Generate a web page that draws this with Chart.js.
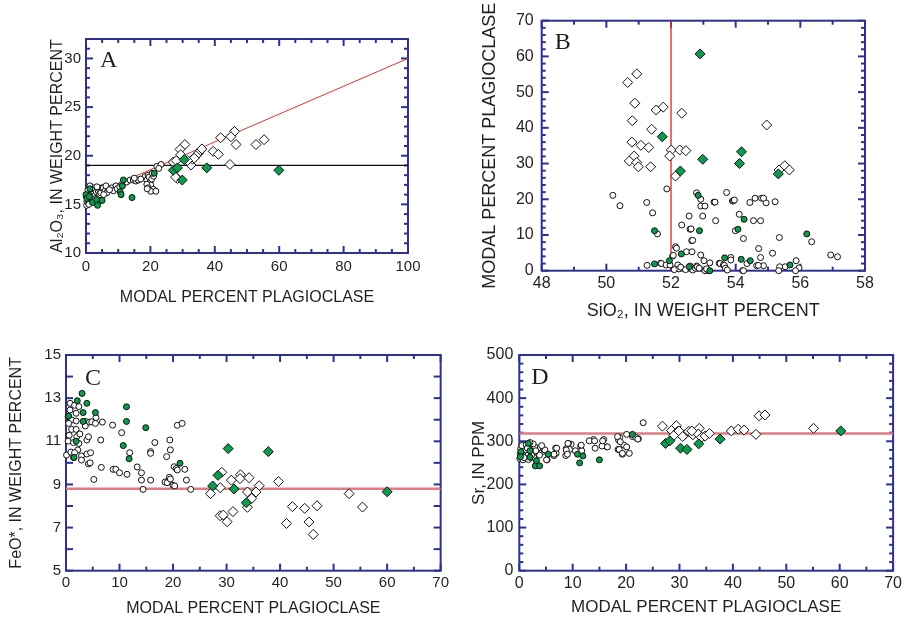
<!DOCTYPE html>
<html>
<head>
<meta charset="utf-8">
<script src="https://cdn.jsdelivr.net/npm/chart.js@4/dist/chart.umd.min.js"></script>
<style>
  html, body { margin: 0; padding: 0; background: #fff; }
  #wrap { position: relative; width: 905px; height: 621px; overflow: hidden; }
  canvas { position: absolute; }
</style>
</head>
<body>
<div id="wrap">
  <canvas id="chartA" width="452" height="320" style="left:0;top:0"></canvas>
  <canvas id="chartB" width="453" height="330" style="left:452px;top:0"></canvas>
  <canvas id="chartC" width="452" height="291" style="left:0;top:330px"></canvas>
  <canvas id="chartD" width="453" height="291" style="left:452px;top:330px"></canvas>
</div>
<script>
// ---- data ----
// A: modal plagioclase (%) vs Al2O3 (wt %)
const aOpenCircles = [[0.2,14.9],[0.3,15.3],[0.5,15.6],[0.4,16.0],[0.8,15.2],[1.0,15.8],[1.0,16.3],[1.3,15.5],[1.5,16.1],[1.8,16.5],[2.0,15.8],[2.3,16.7],[2.5,16.2],[2.8,15.9],[2.8,16.5],[3.2,16.3],[3.5,15.7],[3.8,16.4],[4.1,16.6],[4.3,16.0],[4.6,16.2],[4.9,16.7],[5.4,16.7],[5.9,16.35],[6.5,16.2],[6.9,16.6],[8.0,16.7],[8.5,16.4],[9.3,16.9],[9.7,16.6],[10.5,16.8],[11.1,17.05],[12.6,17.3],[13.7,17.5],[14.7,17.5],[15.5,17.4],[16.2,17.5],[18.3,17.85],[18.9,17.5],[19.3,18.0],[19.9,17.3],[20.1,17.0],[18.9,17.05],[19.3,16.7],[20.9,16.55],[20.1,16.35],[21.7,16.35],[22.0,18.9],[23.3,19.1],[19.6,17.8],[20.4,17.6],[19.0,16.6],[21.0,17.9],[22.6,18.7],[20.6,18.2],[0.1,15.8],[0.6,16.5],[1.2,16.9],[1.7,15.3],[2.2,15.5],[3.0,15.6],[3.4,16.8],[0.9,15.0],[4.0,15.4],[5.5,16.0],[6.2,16.9],[7.3,16.5],[15.0,17.7],[17.0,17.6]];
const aGreenCircles = [[0,16.0],[1.2,16.6],[0.3,15.6],[1.0,15.8],[2.0,15.2],[3.3,15.5],[3.6,14.9],[5.0,15.4],[10.6,16.3],[10.9,16.0],[11.6,17.5],[11.3,16.9],[14.3,15.7],[21.2,18.2]];
const aOpenDiamonds = [[46.1,22.5],[45.0,21.95],[41.8,21.85],[46.6,21.15],[52.8,21.15],[55.3,21.65],[39.5,20.45],[41.1,20.15],[44.7,19.1],[30.7,21.15],[29.2,20.65],[29.4,20.1],[32.6,19.05],[33.1,19.65],[34.1,19.95],[34.9,20.25],[35.6,20.55],[33.6,19.75],[28.4,17.65],[27.1,19.35],[31.5,19.5],[28.0,19.5],[36.0,20.7],[27.8,17.8]];
const aGreenDiamonds = [[30.5,19.6],[27.1,18.5],[28.4,18.75],[37.5,18.75],[29.9,17.5],[59.9,18.5]];
const aTrendLine = [[0,15.7],[100,30]];
const aLevelLine = [[0,19.0],[100,19.0]];
const aTicksX = [0,20,40,60,80,100];
const aTicksY = [10,15,20,25,30];

// B: SiO2 (wt %) vs modal plagioclase (%)
const bOpenCircles = [[50.2,21.1],[50.42,18.2],[51.25,19.1],[51.43,16.2],[51.58,10.3],[51.87,22.9],[52.79,21.8],[52.92,20.0],[52.92,18.1],[52.98,15.3],[52.56,15.3],[53.05,18.1],[53.33,19.2],[53.36,19.2],[53.38,14.0],[53.72,21.9],[53.9,19.5],[53.93,19.6],[53.96,19.8],[54.11,15.8],[53.99,11.2],[54.24,9.0],[54.44,19.1],[54.6,20.3],[54.55,14.0],[54.77,14.0],[54.8,20.3],[54.94,19.0],[54.86,20.3],[55.22,19.3],[55.35,9.3],[55.14,4.9],[56.35,8.1],[56.94,4.4],[57.15,3.9],[52.33,12.8],[52.59,11.6],[52.62,11.7],[52.64,8.4],[52.67,8.5],[52.14,6.7],[52.17,6.3],[52.48,5.3],[52.65,5.3],[52.92,4.4],[53.02,2.8],[53.2,2.2],[52.05,4.1],[52.07,4.3],[54.71,6.2],[54.77,3.7],[54.86,1.4],[54.65,1.4],[55.87,2.8],[55.96,0.8],[55.53,1.1],[55.36,1.1],[55.33,0],[55.85,0],[51.26,1.5],[51.68,2.1],[51.7,2.0],[51.85,1.6],[51.97,1.6],[52.21,1.6],[52.24,0.5],[52.59,1.3],[52.67,0.2],[52.75,0.7],[52.79,1.3],[52.81,1.1],[52.87,0.7],[53.05,0],[53.15,0],[53.49,2.1],[53.52,2.0],[53.62,1.6],[53.65,1.5],[53.68,0.7],[53.74,0.2],[53.85,3.7],[53.85,3.0],[54.21,0],[54.24,0],[54.35,2.0],[54.7,1.5],[52.1,0.3],[52.3,1.0],[52.45,0.3],[53.1,0.5]];
const bGreenCircles = [[51.49,11.2],[52.84,21.1],[52.88,11.2],[51.49,1.9],[51.95,2.8],[52.32,4.7],[52.56,1.1],[53.2,0],[53.66,3.6],[54.26,14.4],[54.07,11.6],[54.17,3.2],[54.45,2.8],[56.2,10.3],[55.68,1.6]];
const bOpenDiamonds = [[50.66,52.7],[50.94,55.1],[50.88,46.9],[50.8,42.0],[51.54,45.0],[51.76,45.8],[52.33,44.1],[51.4,39.6],[50.79,36.0],[51.07,35.1],[51.31,34.5],[50.86,32.1],[50.71,30.7],[50.94,30.3],[50.99,29.1],[51.37,29.1],[52.01,33.8],[51.96,32.1],[52.27,33.8],[52.46,33.6],[52.14,26.5],[54.96,40.8],[55.34,28.2],[55.52,29.4],[55.66,28.2]];
const bGreenDiamonds = [[52.9,60.7],[51.73,37.5],[52.29,27.9],[52.98,31.2],[54.18,33.3],[54.12,30.0],[55.32,27.1]];
const bCutLine = [[52,0],[52,70]];
const bTicksX = [48,50,52,54,56,58];
const bTicksY = [0,10,20,30,40,50,60,70];

// C: modal plagioclase (%) vs FeO* (wt %)
const cOpenCircles = [[0.1,10.36],[0.4,11.01],[0.75,12.76],[0.75,12.45],[0.4,12.14],[1.06,11.99],[0.5,11.83],[1.06,11.55],[0.6,11.28],[1.4,10.94],[0.9,10.5],[1.4,10.25],[1.9,11.55],[1.6,12.67],[1.9,12.3],[1.9,11.94],[2.4,12.61],[2.0,11.21],[2.4,10.9],[2.2,10.6],[2.6,11.34],[2.9,10.32],[2.9,10.13],[1.6,10.47],[3.6,11.92],[3.6,11.71],[3.9,11.06],[3.9,10.41],[4.2,9.95],[4.2,11.21],[4.4,11.89],[4.6,10.47],[4.5,10.0],[4.8,11.9],[5.2,9.23],[5.6,12.1],[5.5,11.83],[6.5,11.06],[6.6,9.79],[6.8,11.89],[8.7,11.75],[8.8,9.7],[9.3,9.7],[10.0,9.54],[10.4,11.4],[11.9,10.47],[11.4,9.47],[13.3,9.81],[14.1,9.54],[14.1,9.2],[14.4,8.77],[15.8,10.52],[15.8,10.44],[15.8,9.2],[16.6,10.94],[18.8,10.29],[18.5,9.11],[18.9,9.08],[19.4,11.06],[19.5,10.6],[19.3,9.33],[19.5,9.25],[20.0,8.96],[20.3,8.93],[20.2,9.82],[20.8,11.74],[20.6,9.74],[20.8,9.67],[21.7,11.83],[22.2,9.7],[22.5,9.2],[23.3,8.77]];
const cGreenCircles = [[3.0,13.22],[2.1,12.88],[3.9,12.76],[3.2,12.33],[5.5,12.33],[0.5,12.17],[3.2,11.92],[11.3,12.6],[11.3,11.92],[14.9,11.63],[1.9,11.0],[10.7,10.8],[11.8,10.19],[1.5,10.25],[21.3,9.98]];
const cOpenDiamonds = [[29.1,9.56],[30.9,9.2],[32.6,9.45],[32.5,9.27],[34.2,9.31],[36.1,8.94],[39.7,9.13],[27.0,8.57],[28.8,8.85],[33.9,8.65],[35.5,8.65],[34.7,8.35],[33.9,7.94],[31.2,7.74],[28.8,7.55],[29.4,7.58],[30.1,7.27],[41.2,7.19],[42.3,7.97],[44.6,7.89],[45.4,7.26],[46.2,6.68],[46.9,8.01],[52.9,8.57],[55.4,7.95]];
const cGreenDiamonds = [[30.3,10.66],[37.8,10.52],[28.4,9.42],[27.4,8.93],[31.4,8.79],[33.7,8.15],[60.0,8.66]];
const cLevelLine = [[0,8.8],[70,8.8]];
const cTicksX = [0,10,20,30,40,50,60,70];
const cTicksY = [5,7,9,11,13,15];

// D: modal plagioclase (%) vs Sr (ppm)
const dOpenCircles = [[23.2,343],[20.1,316],[21.2,311],[22.3,306],[18.6,303],[18.8,309],[19.6,291],[19.3,270],[20.6,272],[20.1,287],[18.5,281],[16.4,287],[15.8,304],[15.5,289],[14.2,284],[13.9,304],[13.1,301],[11.5,289],[11.7,278],[9.7,293],[9.2,295],[8.8,283],[8.7,267],[6.8,284],[6.9,272],[6.5,267],[5.2,257],[4.5,277],[4.0,286],[3.7,274],[2.6,289],[2.1,280],[1.6,268],[1.0,287],[0.7,275],[0.4,268],[0.1,260],[0.25,283],[1.9,260],[2.7,263],[10.5,278],[14.1,301],[15.6,301],[16.5,287],[18.4,311],[18.9,299],[18.7,281],[19.3,272],[21.8,309],[22.2,305],[9.1,295],[9.4,281],[8.8,280],[9.0,270],[11.6,291],[7.0,284],[6.5,270],[5.1,257],[4.8,280],[3.5,284],[2.9,287],[2.6,294],[1.1,280],[0.3,266],[0.7,257],[1.7,258],[2.3,268],[3.8,268],[0.5,290],[1.3,292],[0.2,272],[0.9,262],[1.5,284],[3.1,278],[4.2,290],[2.0,297]];
const dGreenCircles = [[1.7,295],[0.3,276],[2.0,278],[2.0,263],[3.2,255],[3.0,243],[3.8,243],[5.4,270],[10.9,270],[11.9,266],[11.3,250],[15.0,257],[21.2,316],[0.2,264]];
const dOpenDiamonds = [[26.8,335],[29.4,336],[28.5,325],[29.7,323],[28.9,313],[30.9,315],[31.7,323],[32.5,315],[33.7,330],[33.5,317],[34.1,309],[34.8,312],[35.6,318],[39.7,324],[41.0,328],[42.1,326],[44.3,316],[44.9,359],[46.0,361],[55.1,330],[29.9,324],[30.6,311],[32.3,324]];
const dGreenDiamonds = [[27.4,295],[28.2,301],[30.2,284],[31.4,281],[33.6,294],[37.6,305],[60.2,324]];
const dLevelLine = [[0,318],[70,318]];
const dTicksX = [0,10,20,30,40,50,60,70];
const dTicksY = [0,100,200,300,400,500];

// ---- styling ----
const NAVY = '#2e3192';
const INK = '#231f20';
const GREEN = '#0c9a4c';
const SANS = "'Liberation Sans', Arial, sans-serif";

// frame with inward ticks on all four sides, plus the panel letter
const framePlugin = {
  id: 'frame',
  beforeDatasetsDraw(chart, args, opts) {
    const { ctx, chartArea: a, scales: { x, y } } = chart;
    ctx.save();
    ctx.strokeStyle = NAVY;
    ctx.lineWidth = 2;
    const seg = (x1, y1, x2, y2) => { ctx.beginPath(); ctx.moveTo(x1, y1); ctx.lineTo(x2, y2); ctx.stroke(); };
    const isMajor = (v, list) => list.some(t => Math.abs(t - v) < 1e-6);
    for (let v = x.min; v <= x.max + 1e-6; v += opts.minorX) {
      const px = x.getPixelForValue(v);
      const len = isMajor(v, opts.ticksX) ? 7 : opts.minorLenX;
      seg(px, a.bottom, px, a.bottom - len);
      seg(px, a.top, px, a.top + len);
    }
    for (let v = y.min; v <= y.max + 1e-6; v += opts.minorY) {
      const py = y.getPixelForValue(v);
      const len = isMajor(v, opts.ticksY) ? 7 : opts.minorLenY;
      seg(a.left, py, a.left + len, py);
      seg(a.right, py, a.right - len, py);
    }
    ctx.strokeRect(a.left, a.top, a.right - a.left, a.bottom - a.top);
    ctx.fillStyle = INK;
    ctx.font = "24px 'Liberation Serif', 'Times New Roman', serif";
    ctx.textBaseline = 'alphabetic';
    ctx.fillText(opts.letter, a.left + opts.letterX, a.top + opts.letterY);
    ctx.restore();
  }
};

function points(list) { return list.map(([x, y]) => ({ x, y })); }

function marks(list, diamond, green) {
  return {
    data: points(list),
    pointStyle: diamond ? 'rectRot' : 'circle',
    pointRadius: diamond ? 5 : 3,
    pointBackgroundColor: green ? GREEN : '#ffffff',
    pointBorderColor: '#111111',
    pointBorderWidth: 1,
    showLine: false,
    clip: false,
    order: green ? 0 : 1
  };
}

function guide(list, color, width) {
  return {
    data: points(list),
    showLine: true,
    pointRadius: 0,
    borderColor: color,
    borderWidth: width,
    order: 5
  };
}

function axis(pos, min, max, ticks, title, tickSize, titleSize, boxSize, pad) {
  return {
    type: 'linear', position: pos, min, max,
    grid: { display: false, drawTicks: false },
    border: { display: false },
    ticks: { font: { family: SANS, size: tickSize }, color: INK, padding: pad, maxRotation: 0 },
    title: { display: true, text: title, font: { family: SANS, size: titleSize }, color: INK, padding: 0 },
    afterBuildTicks: s => { s.ticks = ticks.map(v => ({ value: v })); },
    afterFit: s => { if (pos === 'left') s.width = boxSize; else s.height = boxSize; }
  };
}

function makePanel(id, p) {
  return new Chart(document.getElementById(id), {
    type: 'scatter',
    data: { datasets: p.datasets },
    options: {
      responsive: false,
      animation: false,
      events: [],
      layout: { padding: p.pad },
      plugins: { legend: { display: false }, tooltip: { enabled: false }, frame: p.frame },
      scales: { x: p.x, y: p.y }
    },
    plugins: [framePlugin]
  });
}

makePanel('chartA', {
  pad: { left: 48, top: 39, right: 44, bottom: 13 },
  x: axis('bottom', 0, 100, aTicksX, 'MODAL PERCENT PLAGIOCLASE', 15, 16, 54, 5),
  y: axis('left', 10, 32, aTicksY, 'Al\u2082O\u2083, IN WEIGHT PERCENT', 15, 16, 38, 5),
  frame: { letter: 'A', letterX: 14, letterY: 28, ticksX: aTicksX, ticksY: aTicksY, minorX: 5, minorY: 1, minorLenX: 4, minorLenY: 4 },
  datasets: [
    guide(aTrendLine, '#e5322d', 1),
    guide(aLevelLine, '#111111', 1.2),
    marks(aOpenCircles, false, false), marks(aOpenDiamonds, true, false),
    marks(aGreenCircles, false, true), marks(aGreenDiamonds, true, true)
  ]
});

makePanel('chartB', {
  pad: { left: 27, top: 20.7, right: 40, bottom: 8 },
  x: axis('bottom', 48, 58, bTicksX, 'SiO\u2082, IN WEIGHT PERCENT', 16, 18, 51.3, 3),
  y: axis('left', 0, 70, bTicksY, 'MODAL PERCENT PLAGIOCLASE', 16, 18, 62.7, 8),
  frame: { letter: 'B', letterX: 13, letterY: 28, ticksX: bTicksX, ticksY: bTicksY, minorX: 1, minorY: 2, minorLenX: 4, minorLenY: 4 },
  datasets: [
    guide(bCutLine, '#e5322d', 1.4),
    marks(bOpenCircles, false, false), marks(bOpenDiamonds, true, false),
    marks(bGreenCircles, false, true), marks(bGreenDiamonds, true, true)
  ]
});

makePanel('chartC', {
  pad: { left: 7, top: 25, right: 11, bottom: 3 },
  x: axis('bottom', 0, 70, cTicksX, 'MODAL PERCENT PLAGIOCLASE', 15, 16, 47.3, 3),
  y: axis('left', 5, 15, cTicksY, 'FeO*, IN WEIGHT PERCENT', 15, 16, 59, 5),
  frame: { letter: 'C', letterX: 19, letterY: 30, ticksX: cTicksX, ticksY: cTicksY, minorX: 5, minorY: 1, minorLenX: 4, minorLenY: 7 },
  datasets: [
    guide(cLevelLine, '#e07b82', 2.5),
    marks(cOpenCircles, false, false), marks(cOpenDiamonds, true, false),
    marks(cGreenCircles, false, true), marks(cGreenDiamonds, true, true)
  ]
});

makePanel('chartD', {
  pad: { left: 17, top: 25, right: 9, bottom: 3 },
  x: axis('bottom', 0, 70, dTicksX, 'MODAL PERCENT PLAGIOCLASE', 16, 17, 47.3, 3),
  y: axis('left', 0, 500, dTicksY, 'Sr, IN PPM', 16, 17, 50.3, 6),
  frame: { letter: 'D', letterX: 12, letterY: 29, ticksX: dTicksX, ticksY: dTicksY, minorX: 5, minorY: 20, minorLenX: 4, minorLenY: 4 },
  datasets: [
    guide(dLevelLine, '#e07b82', 2.5),
    marks(dOpenCircles, false, false), marks(dOpenDiamonds, true, false),
    marks(dGreenCircles, false, true), marks(dGreenDiamonds, true, true)
  ]
});
</script>
</body>
</html>
